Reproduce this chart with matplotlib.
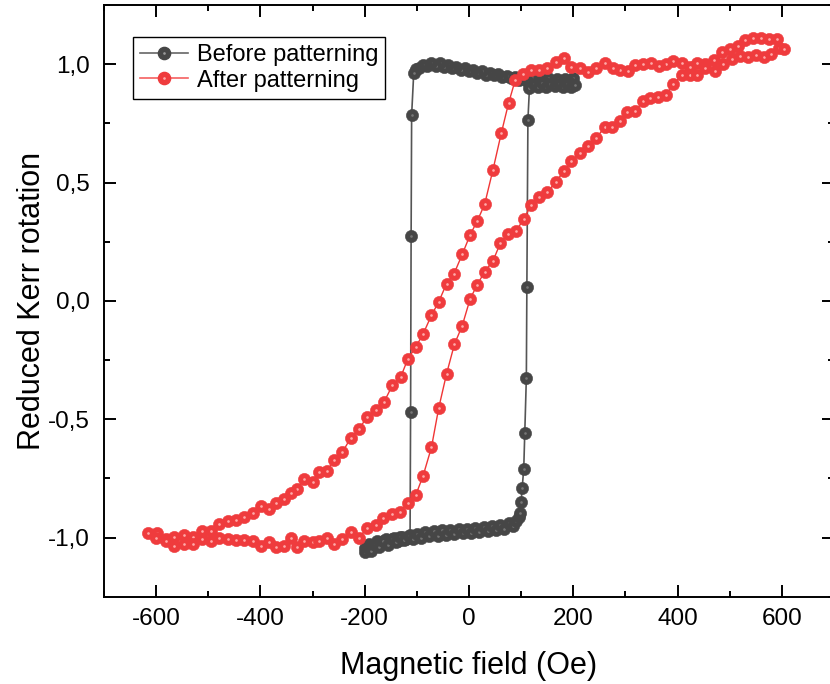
import matplotlib
matplotlib.use("Agg")
import matplotlib.pyplot as plt
from matplotlib.lines import Line2D
from matplotlib.ticker import MultipleLocator, FuncFormatter

plt.rcParams['font.family'] = ['Liberation Sans', 'DejaVu Sans']

# Before patterning: descending branch, switch, ascending branch, switch
before_field = [200, 192, 184, 176, 168, 160, 152, 144, 136, 128, 120, 112, 104, 96, 88, 80,
                72, 64, 56, 48, 40, 32, 24, 16, 8, 0, -8, -16, -24, -32, -40, -48, -56, -64,
                -72, -80, -88, -96, -102, -106,
                -110, -111, -112,
                -113, -120, -128, -136, -144, -152, -160, -168, -176, -184, -192, -200,
                -200, -194, -188, -180, -172, -164, -156, -148, -140, -132, -124, -116, -108,
                -100, -92, -84, -76, -68, -60, -52, -44, -36, -28, -20, -12, -4, 4, 12, 20,
                28, 36, 44, 52, 60, 68, 76, 84, 90, 95,
                98, 100, 102, 105, 107, 110, 111, 113,
                116, 124, 132, 140, 148, 156, 164, 172, 180, 188, 196, 204]
before_kerr = [0.940, 0.926, 0.938, 0.924, 0.936, 0.928, 0.940, 0.925, 0.935, 0.927, 0.940,
               0.929, 0.942, 0.932, 0.946, 0.940, 0.952, 0.945, 0.957, 0.953, 0.962, 0.956,
               0.970, 0.962, 0.977, 0.970, 0.984, 0.977, 0.990, 0.984, 0.998, 0.990, 1.004,
               0.992, 1.006, 0.993, 0.996, 0.982, 0.978, 0.962,
               0.785, 0.274, -0.470,
               -0.990, -1.008, -0.998, -1.016, -1.004, -1.020, -1.006, -1.026, -1.016, -1.034,
               -1.028, -1.045,
               -1.062, -1.046, -1.058, -1.030, -1.040, -1.015, -1.030, -1.006, -1.020, -0.998,
               -1.012, -0.992, -1.006, -0.986, -1.000, -0.978, -0.995, -0.972, -0.993, -0.970,
               -0.988, -0.968, -0.986, -0.964, -0.982, -0.962, -0.980, -0.958, -0.978, -0.955,
               -0.974, -0.952, -0.970, -0.946, -0.965, -0.940, -0.952, -0.930, -0.915,
               -0.895, -0.851, -0.790, -0.710, -0.557, -0.325, 0.058, 0.764,
               0.900, 0.918, 0.905, 0.920, 0.902, 0.917, 0.906, 0.918, 0.903, 0.916, 0.905, 0.912]

# After patterning: descending from +600 to -616, then ascending back to +600
after_field = [590, 575, 560, 545, 530, 515, 501, 485, 469, 453, 438, 424, 408, 392, 378, 364,
               349, 334, 319, 304, 290, 276, 260, 244, 228, 212, 196, 182, 166, 150, 134, 119,
               104, 89, 76, 62, 46, 30, 16, 2, -13, -29, -43, -58, -72, -88, -102, -117, -131,
               -147, -163, -179, -195, -211, -227, -243, -258, -272, -288, -300, -316, -329,
               -342, -355, -371, -384, -398, -415, -431, -447, -463, -479, -495, -513, -530,
               -546, -566, -581, -599, -616,
               -600, -581, -566, -546, -530, -513, -495, -479, -463, -447, -431, -415, -398,
               -384, -371, -355, -342, -329, -316, -300, -288, -272, -258, -243, -227, -211,
               -196, -179, -164, -148, -133, -117, -102, -88, -72, -58, -43, -28, -13, 2, 16,
               30, 46, 60, 74, 90, 105, 119, 134, 150, 166, 182, 196, 212, 228, 244, 260, 274,
               289, 303, 319, 334, 348, 362, 378, 392, 408, 424, 438, 453, 472, 488, 505, 520,
               535, 550, 565, 580, 595, 605]
after_kerr = [1.105, 1.105, 1.112, 1.109, 1.100, 1.075, 1.066, 1.052, 1.016, 1.000, 1.006, 0.987,
              1.006, 1.013, 0.999, 0.992, 1.006, 1.001, 0.996, 0.973, 0.977, 0.984, 1.006, 0.984,
              0.967, 0.984, 0.987, 1.024, 1.010, 0.984, 0.977, 0.977, 0.959, 0.935, 0.836,
              0.709, 0.554, 0.408, 0.338, 0.278, 0.196, 0.113, 0.073, -0.004, -0.061, -0.140,
              -0.195, -0.244, -0.322, -0.357, -0.428, -0.463, -0.490, -0.541, -0.580, -0.640,
              -0.671, -0.717, -0.722, -0.767, -0.753, -0.795, -0.812, -0.838, -0.852, -0.880,
              -0.866, -0.897, -0.915, -0.925, -0.929, -0.944, -0.972, -0.972, -0.996, -0.990,
              -0.996, -1.007, -0.979, -0.979,
              -1.004, -1.014, -1.035, -1.028, -1.028, -1.007, -1.014, -1.000, -1.007, -1.010,
              -1.010, -1.014, -1.035, -1.018, -1.038, -1.035, -1.000, -1.042, -1.014, -1.018,
              -1.014, -1.004, -1.028, -1.007, -0.976, -1.004, -0.958, -0.948, -0.919, -0.901,
              -0.891, -0.852, -0.820, -0.739, -0.619, -0.452, -0.308, -0.184, -0.105, 0.007,
              0.069, 0.123, 0.169, 0.243, 0.281, 0.295, 0.345, 0.404, 0.438, 0.458, 0.502,
              0.547, 0.589, 0.624, 0.653, 0.688, 0.733, 0.733, 0.761, 0.798, 0.801, 0.843,
              0.855, 0.860, 0.869, 0.917, 0.953, 0.956, 0.953, 0.984, 0.970, 1.000, 1.020,
              1.035, 1.030, 1.040, 1.030, 1.045, 1.070, 1.065]

labels = ["Before patterning", "After patterning"]

dark = "#464646"
dark_light = "#767676"
red = "#ef3b3d"
red_light = "#ffaaaa"
MS = 8.8
HL = 1.9


def draw_balls(ax, xs, ys, color, light, z):
    '''draw each point with a small highlight, in order, like shaded spheres'''
    for x, y in zip(xs, ys):
        ax.plot(x, y, 'o', ms=MS, mfc=color, mec=color, mew=0.4, zorder=z)
        ax.plot(x, y, 'o', ms=HL, mfc=light, mec='none', zorder=z)


def comma_fmt(v, pos):
    if abs(v) < 1e-9:
        v = 0.0
    return f"{v:.1f}".replace('.', ',')


fig = plt.figure(figsize=(8.3, 6.84), dpi=100)
ax = fig.add_axes([0.1253, 0.1276, 0.8795, 0.8651])

# connecting lines go under the symbols
ax.plot(before_field, before_kerr, color="#555555", lw=1.2, zorder=2)
draw_balls(ax, before_field, before_kerr, dark, dark_light, 3)
ax.plot(after_field, after_kerr, color="#f03535", lw=1.0, zorder=4)
draw_balls(ax, after_field, after_kerr, red, red_light, 5)

ax.set_xlim(-700, 700)
ax.set_ylim(-1.25, 1.25)
ax.xaxis.set_major_locator(MultipleLocator(200))
ax.xaxis.set_minor_locator(MultipleLocator(100))
ax.yaxis.set_major_locator(MultipleLocator(0.5))
ax.yaxis.set_minor_locator(MultipleLocator(0.25))
ax.xaxis.set_major_formatter(FuncFormatter(lambda v, p: f"{v:.0f}"))
ax.yaxis.set_major_formatter(FuncFormatter(comma_fmt))

ax.tick_params(which='both', direction='in', top=True, right=True, width=1.4, color='black')
ax.tick_params(which='major', length=8.6, labelsize=17.5)
ax.tick_params(axis='x', which='major', pad=8)
ax.tick_params(axis='y', which='major', pad=10)
ax.tick_params(which='minor', length=4.3)
for sp in ax.spines.values():
    sp.set_linewidth(1.4)

ax.set_xlabel("Magnetic field (Oe)", fontsize=22, labelpad=15)
ax.set_ylabel("Reduced Kerr rotation", fontsize=22, labelpad=1)

# legend proxies: line + ball + highlight
h_before = (Line2D([], [], color="#666666", lw=1.2, marker='o', ms=MS, mfc=dark, mec=dark),
            Line2D([], [], ls='none', marker='o', ms=HL, mfc="#9a9a9a", mec='none'))
h_after = (Line2D([], [], color="#f56060", lw=1.2, marker='o', ms=MS, mfc=red, mec=red),
           Line2D([], [], ls='none', marker='o', ms=HL, mfc=red_light, mec='none'))
leg = ax.legend([h_before, h_after], labels, loc='upper left', bbox_to_anchor=(0.0397, 0.946),
                borderaxespad=0, fontsize=17, fancybox=False, framealpha=1, edgecolor='black',
                handlelength=2.05, handletextpad=0.35, labelspacing=0.15, borderpad=0.3)
leg.get_frame().set_linewidth(1.0)
leg.set_zorder(10)

fig.savefig("out.png", dpi=100)
